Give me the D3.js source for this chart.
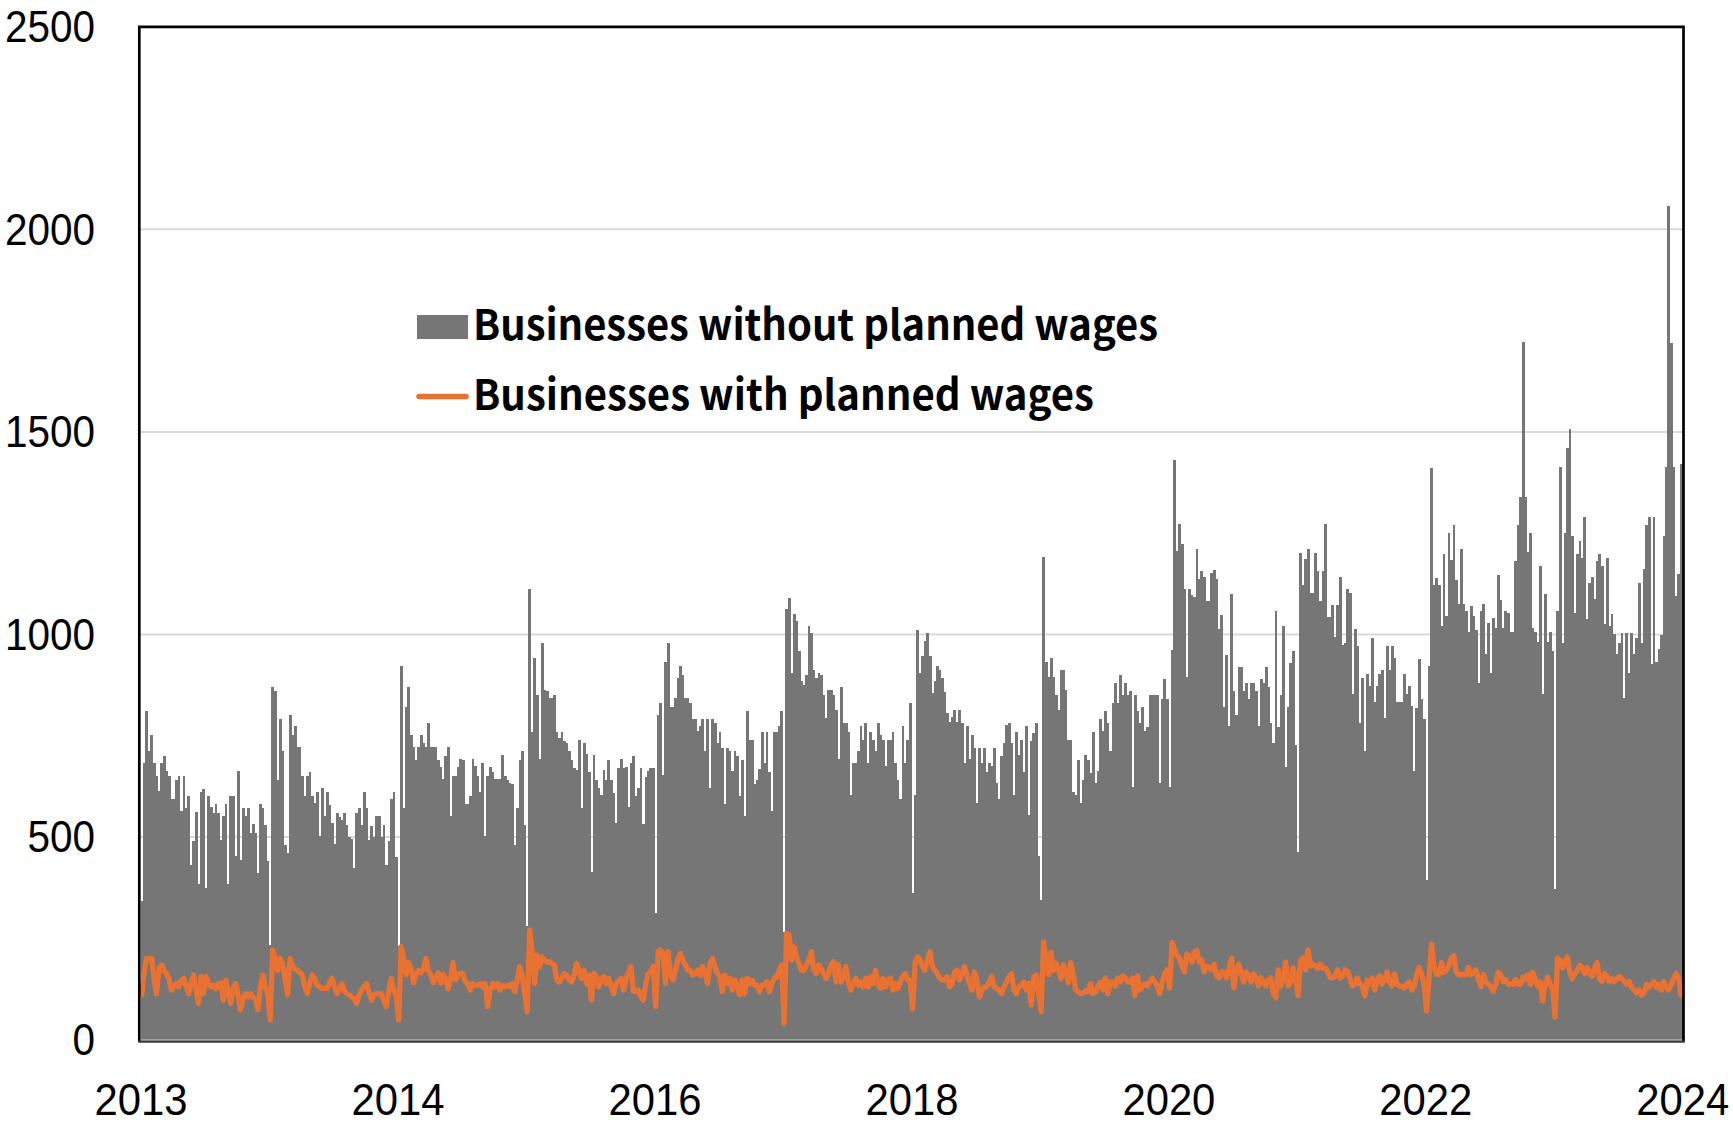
<!DOCTYPE html>
<html><head><meta charset="utf-8">
<script src="https://cdn.jsdelivr.net/npm/d3@7"></script>
<style>html,body{margin:0;padding:0;background:#fff;} svg{display:block;}</style>
</head><body>
<svg id="chart" width="1733" height="1124"></svg>
<script>
// ---- data (weekly, 52 weeks per year, 12 years) ----
const xTickLabels = ["2013","2014","2016","2018","2020","2022","2024"];
const yTickValues = [0, 500, 1000, 1500, 2000, 2500];
const seriesNames = ["Businesses without planned wages", "Businesses with planned wages"];

const withoutPlanned = [
 343,682,812,711,752,682,651,614,682,701,663,651,593,593,641,651,563,651,571,601,432,491,561,383,610,619,373,601,573,560,581,560,493,552,581,384,601,601,453,662,443,571,552,571,511,532,511,412,581,571,530,441,
 233,871,860,641,791,711,480,461,801,752,773,722,722,651,601,651,661,601,583,612,502,620,552,612,579,534,483,560,550,542,560,530,501,494,423,560,571,530,612,571,493,526,501,552,552,501,530,432,491,593,610,451,
 230,923,571,822,871,752,722,690,723,752,731,722,781,722,722,722,690,672,642,700,722,552,651,651,672,692,690,582,582,601,692,674,651,612,682,502,651,672,661,642,642,642,703,651,641,633,631,480,571,690,711,530,
 280,1112,760,942,851,692,980,863,861,843,843,851,760,744,760,736,731,711,690,670,666,740,571,731,704,661,414,703,641,620,604,666,641,690,641,608,534,670,692,670,672,573,682,701,601,620,670,532,649,664,670,670,
 313,801,830,653,931,980,822,822,843,892,921,900,843,843,830,791,791,762,773,791,711,791,620,791,781,731,760,719,582,719,711,664,711,700,601,690,552,810,740,740,631,641,667,760,682,760,661,563,760,760,773,810,
 266,1063,1090,904,1051,1032,958,884,876,900,1021,1003,913,892,904,900,851,793,863,863,851,814,692,871,781,781,760,604,682,682,711,773,740,781,682,760,740,711,781,752,740,674,740,740,760,682,641,593,773,682,740,830,
 361,604,1012,904,946,983,1003,946,855,884,921,913,892,859,806,783,797,814,783,814,781,682,773,692,752,719,583,719,682,719,661,682,674,719,633,593,700,731,777,781,731,604,760,703,740,661,773,554,736,756,781,453,
 344,1190,933,895,942,895,851,814,913,913,862,740,740,612,604,690,583,641,703,690,657,758,634,664,791,762,811,782,713,831,880,831,900,850,880,850,860,624,850,811,782,821,762,772,850,850,850,850,634,841,890,841,
 624,961,1431,1205,1272,1222,1111,895,1111,1097,1092,1210,1136,1156,1141,1082,1082,1151,1160,1136,1013,1049,821,949,774,1099,860,801,919,919,860,880,841,880,880,860,774,890,880,919,870,782,732,1059,772,850,1020,673,821,929,959,727,
 462,1200,1121,1185,1210,1102,1102,1200,1156,1082,1156,1272,1042,1042,1072,993,1072,1141,974,980,1111,1102,852,1013,971,782,892,713,902,872,990,833,872,902,911,793,971,911,971,941,833,833,833,902,852,872,823,664,819,940,840,791,
 394,923,1410,1122,1140,1122,1022,1198,1046,1251,1183,1269,1134,1075,1210,1075,1058,1005,1069,1046,1011,881,1058,1075,952,1028,905,1040,1016,1146,1085,1016,1058,1052,1005,1005,1181,1269,1339,1721,1339,1204,1251,1016,1005,981,1169,852,1099,981,1005,958,
 371,1058,1413,978,1250,1461,1508,1243,1053,1198,1230,1189,1291,1039,1128,1141,1087,1182,1198,1168,1026,1189,1022,1050,1000,951,978,1003,842,1003,904,1003,951,992,1128,978,1162,1270,1291,927,1291,931,965,999,1243,1413,2058,1719,1413,1094,1148,1420
];

const withPlanned = [
 110,170,200,200,200,150,113,175,184,170,163,150,122,130,138,130,145,151,130,113,140,159,120,89,155,113,155,140,130,134,125,138,140,97,146,120,89,125,138,110,73,100,113,105,113,105,100,73,130,159,130,113,
 48,221,200,170,200,190,150,110,200,180,175,171,165,159,130,113,140,159,150,134,130,126,126,126,140,151,130,113,125,138,120,113,110,105,100,89,110,122,130,138,115,97,110,113,113,113,95,81,120,151,122,110,
 48,229,200,160,190,175,140,160,170,165,175,200,170,160,140,150,165,140,160,150,125,150,190,147,159,163,163,142,138,122,138,134,134,138,130,138,81,122,138,130,138,122,134,130,134,130,138,118,147,180,155,113,
 68,270,217,138,208,180,204,196,192,192,188,184,147,142,151,163,159,147,142,159,188,167,151,171,138,159,97,163,155,130,147,155,138,151,130,113,138,145,151,122,150,165,180,118,118,122,105,97,138,163,167,180,
 81,217,221,213,138,217,163,147,171,196,213,196,184,171,171,159,163,171,159,180,163,138,188,200,180,163,155,118,159,138,151,122,147,130,110,147,113,151,138,147,134,134,118,134,134,142,118,138,151,155,171,184,
 40,262,258,196,229,204,188,171,171,184,196,217,171,163,184,175,163,151,163,184,192,142,184,142,155,180,142,122,138,151,134,142,130,151,130,155,138,171,134,126,151,130,147,151,122,138,126,142,155,163,147,147,
 76,190,204,196,180,171,196,217,180,171,163,151,147,147,155,130,138,167,171,147,163,180,159,138,122,167,147,105,122,130,130,142,155,130,126,122,113,130,142,155,163,122,113,130,134,142,122,138,85,155,159,113,
 68,241,196,160,215,170,188,175,150,184,170,140,190,160,122,118,113,115,120,118,138,113,118,132,142,122,152,113,142,142,132,152,142,157,152,142,142,152,108,157,122,132,137,132,142,152,142,132,113,142,162,172,
 127,240,220,206,201,181,167,211,206,191,216,220,191,196,167,181,177,172,186,157,152,167,167,152,172,201,127,172,186,162,142,167,157,142,162,152,132,152,142,132,147,152,113,103,172,132,152,191,132,142,177,152,
 108,196,201,172,221,181,186,181,176,186,176,176,167,152,152,157,172,152,157,172,167,152,132,137,152,137,132,108,147,137,152,122,147,157,137,147,167,142,132,162,137,132,132,127,137,142,122,132,160,178,160,136,
 70,150,236,183,160,160,190,166,172,183,201,207,166,160,160,160,160,178,160,166,172,148,131,160,142,136,131,119,136,166,160,142,148,136,136,136,148,136,136,154,148,160,136,166,148,131,142,95,136,154,136,125,
 55,201,197,177,190,204,163,150,163,170,184,177,163,177,163,156,177,190,150,143,163,156,143,150,143,150,156,150,143,136,143,129,122,115,122,109,115,136,129,136,143,129,136,122,143,129,122,136,150,163,150,109
];

const weeks = d3.range(withoutPlanned.length);

// ---- layout ----
const svg = d3.select("#chart");
const plot = {left: 139.3, right: 1683.5, top: 26.8, bottom: 1039.5};
const BAR = "#767676", ORANGE = "#E97132";
const FONT = "'Noto Sans CJK JP', 'Noto Sans', sans-serif";
const TICKFONT = "'Liberation Sans', Arial, sans-serif";

const x = d3.scaleBand().domain(weeks).range([plot.left + 1.2, plot.right - 1.2]).padding(0);
const y = d3.scaleLinear().domain([0, 2500]).range([plot.bottom, plot.top]);

svg.append("rect").attr("width", 1733).attr("height", 1124).attr("fill", "#fff");

// gridlines
svg.append("g").selectAll("line").data(yTickValues.filter(v => v > 0 && v < 2500)).join("line")
  .attr("x1", plot.left).attr("x2", plot.right)
  .attr("y1", d => y(d)).attr("y2", d => y(d))
  .attr("stroke", "#d9d9d9").attr("stroke-width", 2);

// bars
const bw = x.bandwidth();
svg.append("g").attr("shape-rendering", "crispEdges")
  .selectAll("rect").data(weeks).join("rect")
  .attr("x", i => x(i))
  .attr("width", bw + 0.35)
  .attr("y", i => y(withoutPlanned[i]))
  .attr("height", i => y(0) - y(withoutPlanned[i]))
  .attr("fill", BAR);

// zero line
svg.append("line").attr("x1", plot.left).attr("x2", plot.right)
  .attr("y1", y(0) + 0.8).attr("y2", y(0) + 0.8)
  .attr("stroke", "#d0d0d0").attr("stroke-width", 1.6);

// orange line
const line = d3.line().x(i => x(i) + bw / 2).y(i => y(withPlanned[i]));
svg.append("path").datum(weeks).attr("d", line)
  .attr("fill", "none").attr("stroke", ORANGE).attr("stroke-width", 5.3)
  .attr("stroke-linejoin", "round").attr("stroke-linecap", "round");

// frame
svg.append("path")
  .attr("d", `M${plot.left},${plot.bottom + 2}V${plot.top}H${plot.right}V${plot.bottom + 2}`)
  .attr("fill", "none").attr("stroke", "#000").attr("stroke-width", 2.7);
svg.append("line").attr("x1", plot.left - 1.3).attr("x2", plot.right + 1.3)
  .attr("y1", plot.bottom + 2.2).attr("y2", plot.bottom + 2.2)
  .attr("stroke", "#3a3a3a").attr("stroke-width", 2.2);

// y axis
const yAxis = svg.append("g").attr("transform", "translate(95,0)")
  .call(d3.axisLeft(y).tickValues(yTickValues).tickSize(0).tickPadding(0).tickFormat(d3.format("d")));
yAxis.select(".domain").remove();
yAxis.selectAll("text").attr("font-family", TICKFONT).attr("font-size", 44).attr("fill", "#000")
  .attr("dy", "0.34em")
  .each(function() {
    const w = this.getComputedTextLength();
    d3.select(this).attr("textLength", w * 0.92).attr("lengthAdjust", "spacingAndGlyphs");
  });

// x axis
const xLab = d3.scalePoint().domain(xTickLabels).range([plot.left + 1.2, plot.right - 1.2]);
const xAxis = svg.append("g").attr("transform", "translate(0,1114.5)")
  .call(d3.axisBottom(xLab).tickSize(0).tickPadding(0));
xAxis.select(".domain").remove();
xAxis.selectAll("text").attr("font-family", TICKFONT).attr("font-size", 44).attr("fill", "#000")
  .attr("y", 0).attr("dy", 0)
  .each(function() {
    const w = this.getComputedTextLength();
    d3.select(this).attr("textLength", w * 0.95).attr("lengthAdjust", "spacingAndGlyphs");
  });

// legend
const lg = svg.append("g");
lg.append("rect").attr("x", 417).attr("y", 315).attr("width", 51).attr("height", 24).attr("fill", BAR);
lg.append("line").attr("x1", 419).attr("x2", 466).attr("y1", 396.5).attr("y2", 396.5)
  .attr("stroke", ORANGE).attr("stroke-width", 5.5).attr("stroke-linecap", "round");
lg.append("text").attr("x", 473).attr("y", 340).text(seriesNames[0])
  .attr("font-family", FONT).attr("font-weight", "bold").attr("font-size", 42).attr("fill", "#000")
  .attr("textLength", 685).attr("lengthAdjust", "spacingAndGlyphs");
lg.append("text").attr("x", 473).attr("y", 410).text(seriesNames[1])
  .attr("font-family", FONT).attr("font-weight", "bold").attr("font-size", 42).attr("fill", "#000")
  .attr("textLength", 621).attr("lengthAdjust", "spacingAndGlyphs");
</script>
</body></html>
